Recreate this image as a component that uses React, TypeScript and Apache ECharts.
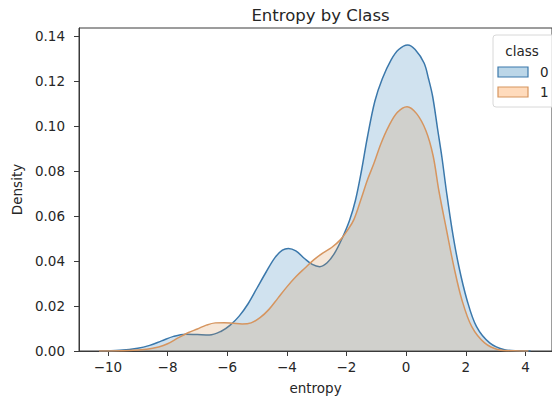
import React, { useEffect, useRef } from "react";
import * as echarts from "echarts";

const xTicks = [-10, -8, -6, -4, -2, 0, 2, 4];
const yTicks = [0, 0.02, 0.04, 0.06, 0.08, 0.1, 0.12, 0.14];
const classNames = ["0", "1"];

const class0Entropy = [
  -10.3, -9.6, -9.0, -8.6, -8.2, -7.8, -7.4, -7.0, -6.6, -6.2, -5.9, -5.6, -5.3, -5.0, -4.7, -4.4, -4.15, -3.95,
  -3.7, -3.4, -3.15, -2.9, -2.65, -2.4, -2.15, -1.9, -1.7, -1.5, -1.3, -1.05, -0.8, -0.5, -0.25, 0.05, 0.3, 0.6,
  0.75, 0.89, 1.05, 1.2, 1.35, 1.54, 1.76, 2.04, 2.36, 2.8, 3.3, 3.8, 4.17,
];
const class0Density = [
  0, 0.0003, 0.0012, 0.0025, 0.0045, 0.0065, 0.0075, 0.0073, 0.0071, 0.0088, 0.0115, 0.0155, 0.021, 0.028, 0.035,
  0.0415, 0.0448, 0.0456, 0.0445, 0.041, 0.0385, 0.0375, 0.0392, 0.0435, 0.05, 0.058, 0.067, 0.08, 0.095, 0.111,
  0.121, 0.1295, 0.134, 0.136, 0.134, 0.128, 0.121, 0.113, 0.099, 0.086, 0.071, 0.054, 0.038, 0.0227, 0.0108,
  0.0036, 0.0006, 0.0001, 0,
];

const class1Entropy = [
  -10.3, -9.3, -8.7, -8.3, -8.0, -7.65, -7.3, -7.0, -6.7, -6.4, -6.1, -5.8, -5.5, -5.2, -4.9, -4.6, -4.3, -4.0,
  -3.7, -3.4, -3.1, -2.8, -2.5, -2.2, -1.95, -1.75, -1.5, -1.3, -1.08, -0.85, -0.6, -0.3, 0.03, 0.35, 0.66, 0.9,
  1.1, 1.35, 1.6, 1.87, 2.2, 2.63, 3.1, 3.6, 4.1,
];
const class1Density = [
  0, 0.0002, 0.0008, 0.0018, 0.0032, 0.0058, 0.0082, 0.0098, 0.0115, 0.0125, 0.0126, 0.0123, 0.012, 0.0125, 0.0148,
  0.0185, 0.0235, 0.0285, 0.033, 0.0368, 0.0405, 0.0435, 0.046, 0.0495, 0.054, 0.0585, 0.068, 0.076, 0.0834, 0.092,
  0.0995, 0.106, 0.1086, 0.1055, 0.098, 0.087, 0.071, 0.054, 0.0375, 0.0227, 0.0108, 0.0036, 0.0006, 0.0001, 0,
];

const FONT = "DejaVu Sans";
const TEXT = "#262626";
const AXIS = "#3a3a3a";

const blueLine = "#3b78ab";
const blueFill = "rgba(31,119,180,0.3)";
const orangeLine = "#d6955f";
const orangeFill = "rgba(210,142,75,0.3)";

function pairs(xs: number[], ys: number[]) {
  return xs.map((x, i) => [x, ys[i]]);
}

export default function App() {
  const ref = useRef<HTMLDivElement>(null);
  useEffect(() => {
    if (!ref.current) return;
    const chart = echarts.init(ref.current, undefined, { renderer: "svg" });
    const fmtX = (v: number) => String(v).replace("-", "\u2212");
    chart.setOption({
      animation: false,
      backgroundColor: "#ffffff",
      grid: {
        left: 79,
        top: 28,
        width: 483,
        height: 323,
        show: true,
        borderColor: AXIS,
        borderWidth: 1,
        backgroundColor: "transparent",
      },
      xAxis: {
        type: "value",
        min: -10.97,
        max: 4.89,
        name: "entropy",
        nameLocation: "middle",
        nameGap: 30,
        nameTextStyle: { fontFamily: FONT, fontSize: 13.5, color: TEXT },
        axisLine: { show: true, onZero: false, lineStyle: { color: AXIS, width: 1 } },
        axisTick: { show: true, length: 5, lineStyle: { color: AXIS }, customValues: xTicks },
        axisLabel: {
          customValues: xTicks,
          formatter: fmtX,
          fontFamily: FONT,
          fontSize: 13.5,
          color: TEXT,
          margin: 9,
        },
        splitLine: { show: false },
      },
      yAxis: {
        type: "value",
        min: 0,
        max: 0.14356,
        name: "Density",
        nameLocation: "middle",
        nameGap: 49,
        nameTextStyle: { fontFamily: FONT, fontSize: 13.5, color: TEXT },
        axisLine: { show: true, onZero: false, lineStyle: { color: AXIS, width: 1 } },
        axisTick: { show: true, length: 5, lineStyle: { color: AXIS }, customValues: yTicks },
        axisLabel: {
          customValues: yTicks,
          formatter: (v: number) => v.toFixed(2),
          fontFamily: FONT,
          fontSize: 13.5,
          color: TEXT,
          margin: 14,
        },
        splitLine: { show: false },
      },
      series: [
        {
          name: classNames[0],
          type: "line",
          data: pairs(class0Entropy, class0Density),
          smooth: 0.35,
          showSymbol: false,
          symbol: "none",
          lineStyle: { color: blueLine, width: 1.5 },
          areaStyle: { color: blueFill, origin: "start" },
          z: 2,
        },
        {
          name: classNames[1],
          type: "line",
          data: pairs(class1Entropy, class1Density),
          smooth: 0.35,
          showSymbol: false,
          symbol: "none",
          lineStyle: { color: orangeLine, width: 1.5 },
          areaStyle: { color: orangeFill, origin: "start" },
          z: 3,
        },
      ],
      graphic: [
        {
          type: "text",
          x: 320.5,
          y: 15,
          style: {
            text: "Entropy by Class",
            fontFamily: FONT,
            fontSize: 16.5,
            fill: TEXT,
            textAlign: "center",
            textVerticalAlign: "middle",
          },
          z: 10,
        },
        {
          type: "rect",
          shape: { x: 493, y: 35, width: 75, height: 72, r: 3 },
          style: { fill: "rgba(255,255,255,0.8)", stroke: "#d8d8d8", lineWidth: 1 },
          z: 10,
        },
        {
          type: "text",
          x: 522,
          y: 51,
          style: {
            text: "class",
            fontFamily: FONT,
            fontSize: 13.5,
            fill: TEXT,
            textAlign: "center",
            textVerticalAlign: "middle",
          },
          z: 11,
        },
        {
          type: "rect",
          shape: { x: 498, y: 67, width: 30, height: 10 },
          style: { fill: blueFill, stroke: blueLine, lineWidth: 1.2 },
          z: 11,
        },
        {
          type: "text",
          x: 540,
          y: 72,
          style: {
            text: classNames[0],
            fontFamily: FONT,
            fontSize: 13.5,
            fill: TEXT,
            textAlign: "left",
            textVerticalAlign: "middle",
          },
          z: 11,
        },
        {
          type: "rect",
          shape: { x: 498, y: 87, width: 30, height: 10 },
          style: { fill: "rgba(255,127,14,0.28)", stroke: orangeLine, lineWidth: 1.2 },
          z: 11,
        },
        {
          type: "text",
          x: 540,
          y: 92,
          style: {
            text: classNames[1],
            fontFamily: FONT,
            fontSize: 13.5,
            fill: TEXT,
            textAlign: "left",
            textVerticalAlign: "middle",
          },
          z: 11,
        },
      ],
    });
    return () => chart.dispose();
  }, []);
  return <div ref={ref} style={{ width: 552, height: 403, position: "absolute", left: 0, top: 0 }} />;
}
